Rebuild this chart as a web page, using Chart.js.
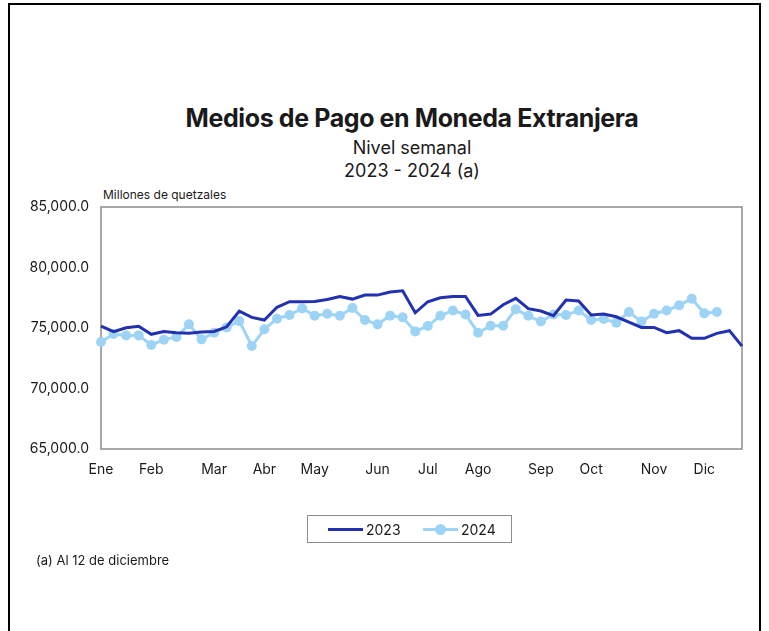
<!DOCTYPE html>
<html lang="es">
<head>
<meta charset="utf-8">
<title>Medios de Pago en Moneda Extranjera</title>
<script src="https://cdn.jsdelivr.net/npm/chart.js@4"></script>
<style>
    html, body { margin: 0; padding: 0; background: #fff; overflow: hidden; }
    body { width: 769px; height: 631px; position: relative; font-family: Inter, "Noto Sans", sans-serif; color: #1a1a1a; }
    .frame { position: absolute; left: 8px; top: 3px; width: 749px; height: 700px; border: 2px solid #000; }
    #chartWrap { position: absolute; left: 0; top: 0; width: 769px; height: 631px; }
    .title { position: absolute; left: 0; width: 824px; text-align: center; top: 103px; font-size: 25px; font-weight: 700; letter-spacing: -0.4px; }
    .sub { position: absolute; left: 0; width: 824px; text-align: center; font-size: 18px; }
    .units { position: absolute; left: 103px; top: 187px; font-size: 12px; }
    .note { position: absolute; left: 36px; top: 552px; font-size: 13px; }
    .legend { position: absolute; left: 307px; top: 515px; width: 203px; height: 26px; border: 1px solid #8c8c8c; font-size: 14px; }
    .legend .item { position: absolute; top: 5px; display: flex; align-items: center; }
    .legend .line { display: inline-block; width: 35px; height: 3px; margin-right: 3px; position: relative; }
    .legend .dot { position: absolute; left: 12px; top: -4px; width: 11px; height: 11px; border-radius: 50%; }
</style>
</head>
<body>
<div class="frame"></div>
<div class="title">Medios de Pago en Moneda Extranjera</div>
<div class="sub" style="top:137px">Nivel semanal</div>
<div class="sub" style="top:160px">2023 - 2024 (a)</div>
<div class="units">Millones de quetzales</div>
<div id="chartWrap"><canvas id="pagoChart" width="769" height="631"></canvas></div>
<div class="legend">
    <div class="item" style="left:20px"><span class="line" style="background:#2231b0"></span>2023</div>
    <div class="item" style="left:115px"><span class="line" style="background:#9dd4f5"><span class="dot" style="background:#9dd4f5"></span></span>2024</div>
</div>
<div class="note">(a) Al 12 de diciembre</div>

<script>
// Semanas del año; solo se rotula la primera semana de cada mes
const weekLabels = ['Ene', '', '', '', 'Feb', '', '', '', '', 'Mar', '', '', '', 'Abr', '', '', '', 'May', '', '', '', '', 'Jun', '', '', '', 'Jul', '', '', '', 'Ago', '', '', '', '', 'Sep', '', '', '', 'Oct', '', '', '', '', 'Nov', '', '', '', 'Dic', '', '', ''];

const values2023 = [75160, 74700, 75020, 75140, 74480, 74700, 74610, 74560, 74670, 74720, 75100, 76400, 75880, 75660, 76710, 77170, 77170, 77200, 77360, 77610, 77390, 77720, 77720, 77970, 78080, 76260, 77170, 77500, 77610, 77610, 76040, 76150, 76920, 77450, 76600, 76400, 76020, 77310, 77230, 76070, 76150, 75930, 75490, 75050, 75050, 74610, 74780, 74150, 74150, 74560, 74780, 73500];

const values2024 = [73840, 74500, 74390, 74390, 73600, 74030, 74260, 75300, 74060, 74610, 75050, 75580, 73510, 74890, 75770, 76070, 76620, 76020, 76180, 76010, 76650, 75660, 75300, 76020, 75880, 74720, 75160, 76010, 76450, 76120, 74610, 75190, 75190, 76540, 76010, 75530, 76120, 76070, 76450, 75660, 75740, 75440, 76320, 75530, 76180, 76450, 76870, 77420, 76210, 76320];

const yMin = 65000;
const yMax = 85000;
const yStep = 5000;

// Recuadro gris alrededor del área de trazado
const plotBox = {
    id: 'plotBox',
    beforeDatasetsDraw(chart) {
        const { ctx, chartArea } = chart;
        ctx.save();
        ctx.strokeStyle = '#8c8c8c';
        ctx.lineWidth = 1.5;
        ctx.strokeRect(chartArea.left, chartArea.top, chartArea.right - chartArea.left, chartArea.bottom - chartArea.top);
        ctx.restore();
    }
};

document.addEventListener('DOMContentLoaded', function () {
    const ctx = document.getElementById('pagoChart').getContext('2d');

    new Chart(ctx, {
        type: 'line',
        data: {
            labels: weekLabels,
            datasets: [{
                label: '2023',
                data: values2023,
                borderColor: '#2231b0',
                borderWidth: 3,
                pointRadius: 0,
                tension: 0,
                clip: false
            }, {
                label: '2024',
                data: values2024,
                borderColor: '#9dd4f5',
                backgroundColor: '#9dd4f5',
                borderWidth: 3,
                pointRadius: 5,
                pointBorderWidth: 0,
                tension: 0,
                clip: false
            }]
        },
        options: {
            responsive: false,
            animation: false,
            layout: { padding: { left: 0, right: 27, top: 207, bottom: 142 } },
            plugins: {
                legend: { display: false },
                tooltip: { enabled: false }
            },
            scales: {
                x: {
                    offset: false,
                    grid: { display: false, drawTicks: false },
                    border: { display: false },
                    ticks: {
                        autoSkip: false,
                        maxRotation: 0,
                        padding: 12,
                        color: '#1a1a1a',
                        font: { family: 'Inter', size: 14 }
                    },
                    afterFit(scale) { scale.height = 40; }
                },
                y: {
                    min: yMin,
                    max: yMax,
                    grid: { display: false, drawTicks: false },
                    border: { display: false },
                    ticks: {
                        stepSize: yStep,
                        padding: 12,
                        color: '#1a1a1a',
                        font: { family: 'Inter', size: 14 },
                        callback: value => value.toLocaleString('en-US', { minimumFractionDigits: 1, maximumFractionDigits: 1 })
                    },
                    afterFit(scale) { scale.width = 101; }
                }
            }
        },
        plugins: [plotBox]
    });
});
</script>
</body>
</html>
